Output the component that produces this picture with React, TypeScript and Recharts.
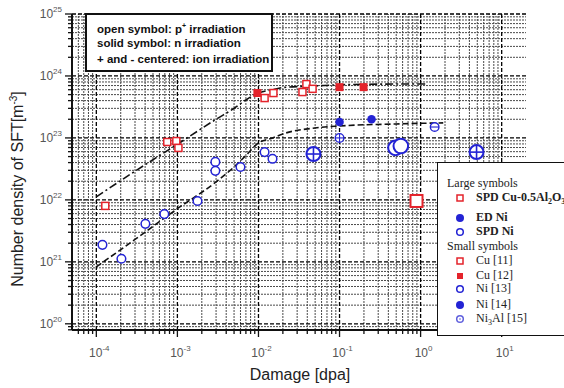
import React from "react";
import { ComposedChart, XAxis, YAxis, Scatter, Line, ReferenceLine } from "recharts";

// ---- data (damage in dpa, density in m^-3) ----
const cu11X = [1.29e-4, 7.5e-4, 9.7e-4, 1.03e-3, 0.0119, 0.0153, 0.0349, 0.039, 0.0465];
const cu11Y = [8.0e21, 8.6e22, 8.9e22, 6.9e22, 4.4e23, 5.3e23, 5.5e23, 7.4e23, 6.2e23];

const cu12X = [9.7e-3, 0.1, 0.198];
const cu12Y = [5.3e23, 6.6e23, 6.6e23];

const spdCuX = [0.89];
const spdCuY = [9.6e21];

const ni13X = [1.19e-4, 2.04e-4, 4.03e-4, 6.9e-4, 1.77e-3, 2.94e-3, 2.94e-3, 6.0e-3, 0.0119, 0.0149];
const ni13Y = [1.88e21, 1.12e21, 4.1e21, 5.9e21, 9.6e21, 4.1e22, 2.94e22, 3.4e22, 5.9e22, 4.6e22];

const ni14X = [0.1, 0.248];
const ni14Y = [1.81e23, 2.0e23];

const ionPlusSmallX = [0.1];
const ionPlusSmallY = [1.0e23];
const ionMinusSmallX = [1.49];
const ionMinusSmallY = [1.5e23];

const ionPlusLargeX = [0.0477, 4.9];
const ionPlusLargeY = [5.5e22, 5.9e22];

const spdNiX = [0.49, 0.57];
const spdNiY = [6.9e22, 7.4e22];

// fitted curves as drawn
const fitCuX = [1e-4, 3e-4, 1e-3, 3e-3, 5e-3, 7e-3, 0.01, 0.015, 0.02, 0.03, 0.05, 0.1, 0.5, 1.2];
const fitCuY = [1.12e22, 2.9e22, 7.9e22, 2.0e23, 3.0e23, 4.1e23, 5.3e23, 6.0e23, 6.5e23, 6.7e23, 6.9e23, 7.2e23, 7.4e23, 7.4e23];

const fitNiX = [1e-4, 3e-4, 1e-3, 3e-3, 5e-3, 7e-3, 0.01, 0.015, 0.02, 0.05, 0.1, 0.5, 1.9];
const fitNiY = [8.3e20, 2.3e21, 7.2e21, 1.95e22, 3.4e22, 5.2e22, 8.3e22, 1.0e23, 1.16e23, 1.45e23, 1.56e23, 1.68e23, 1.75e23];

const X_MIN = Math.pow(10, -4.3);
const X_MAX = Math.pow(10, 1.3);
const Y_MIN = Math.pow(10, 19.9);
const Y_MAX = 1e25;

const zip = (xs: number[], ys: number[]) => xs.map((x, i) => ({ x, y: ys[i] }));

const RED = "#e4232b";
const BLUE = "#2323d4";

const isDecade = (v: number) => Math.abs(Math.log10(v) - Math.round(Math.log10(v))) < 1e-6;

function logTicks(min: number, max: number) {
  const out: number[] = [];
  for (let e = Math.floor(Math.log10(min)); e <= Math.ceil(Math.log10(max)); e++) {
    for (let m = 1; m <= 9; m++) {
      const v = m * Math.pow(10, e);
      if (v >= min * 0.999 && v <= max * 1.001) out.push(v);
    }
  }
  return out;
}

const xTicks = logTicks(X_MIN, X_MAX);
const yTicks = logTicks(Y_MIN, Y_MAX);

const tickFont = { fontFamily: "'Liberation Sans', Arial, sans-serif", fill: "#555" };

const XTick = (props: any) => {
  const { x, y, payload } = props;
  const v = payload.value;
  const major = isDecade(v);
  return (
    <g>
      <line x1={x} x2={x} y1={y} y2={y + (major ? 7 : 4)} stroke="#111" strokeWidth={1.3} />
      {major && (
        <text x={x + 3} y={y + 27} textAnchor="middle" fontSize={12} {...tickFont}>
          10
          <tspan dy={-6} fontSize={8}>{Math.round(Math.log10(v))}</tspan>
        </text>
      )}
    </g>
  );
};

const YTick = (props: any) => {
  const { x, y, payload } = props;
  const v = payload.value;
  const major = isDecade(v);
  return (
    <g>
      <line x1={x} x2={x - (major ? 7 : 4)} y1={y} y2={y} stroke="#111" strokeWidth={1.3} />
      {major && (
        <text x={x - 10} y={y + 4} textAnchor="end" fontSize={12} {...tickFont}>
          10
          <tspan dy={-6} fontSize={8}>{Math.round(Math.log10(v))}</tspan>
        </text>
      )}
    </g>
  );
};

// marker shapes
const openSquare = (s: number, sw: number) => (p: any) =>
  <rect x={p.cx - s / 2} y={p.cy - s / 2} width={s} height={s} fill="#fff" stroke={RED} strokeWidth={sw} />;
const filledSquare = (s: number) => (p: any) =>
  <rect x={p.cx - s / 2} y={p.cy - s / 2} width={s} height={s} fill={RED} />;
const openCircle = (r: number, sw: number) => (p: any) =>
  <circle cx={p.cx} cy={p.cy} r={r} fill="#fff" stroke={BLUE} strokeWidth={sw} />;
const filledCircle = (r: number) => (p: any) =>
  <circle cx={p.cx} cy={p.cy} r={r} fill={BLUE} />;
const centeredCircle = (r: number, sw: number, plus: boolean) => (p: any) => (
  <g>
    <circle cx={p.cx} cy={p.cy} r={r} fill="#fff" stroke={BLUE} strokeWidth={sw} />
    <line x1={p.cx - r} x2={p.cx + r} y1={p.cy} y2={p.cy} stroke={BLUE} strokeWidth={sw * 0.8} />
    {plus && <line x1={p.cx} x2={p.cx} y1={p.cy - r} y2={p.cy + r} stroke={BLUE} strokeWidth={sw * 0.8} />}
  </g>
);

const sub = { fontSize: 8, lineHeight: 0 };

const legendRows: { kind: string; label: React.ReactNode; bold?: boolean; header?: boolean }[] = [
  { kind: "", label: "Large symbols", header: true },
  { kind: "sq", label: <>SPD Cu-0.5Al<sub style={sub}>2</sub>O<sub style={sub}>3</sub></>, bold: true },
  { kind: "fc", label: "ED Ni", bold: true },
  { kind: "oc", label: "SPD Ni", bold: true },
  { kind: "", label: "Small symbols", header: true },
  { kind: "sq", label: "Cu [11]" },
  { kind: "fs", label: "Cu [12]" },
  { kind: "oc", label: "Ni [13]" },
  { kind: "fc", label: "Ni [14]" },
  { kind: "dc", label: <>Ni<sub style={sub}>3</sub>Al [15]</> },
];
const legendTops = [21, 35, 55, 69, 84, 98, 113, 126, 142, 156];

function LegendMark({ kind }: { kind: string }) {
  return (
    <svg width={14} height={12} style={{ position: "absolute", left: 15, top: -6 }}>
      {kind === "sq" && <rect x={4} y={3} width={6} height={6} fill="#fff" stroke={RED} strokeWidth={1.5} />}
      {kind === "fs" && <rect x={4} y={3} width={6} height={6} fill={RED} />}
      {kind === "oc" && <circle cx={7} cy={6} r={3.3} fill="#fff" stroke={BLUE} strokeWidth={1.5} />}
      {kind === "fc" && <circle cx={7} cy={6} r={4} fill={BLUE} />}
      {kind === "dc" && (
        <g>
          <circle cx={7} cy={6} r={3.3} fill="#fff" stroke="#6060dd" strokeWidth={1.5} />
          <circle cx={7} cy={6} r={1} fill="#9999ee" />
        </g>
      )}
    </svg>
  );
}

const keyLines: React.ReactNode[] = [
  <>open symbol: p<sup style={{ fontSize: 7, lineHeight: 0 }}>+</sup> irradiation</>,
  "solid symbol: n irradiation",
  "+ and - centered: ion irradiation",
];
const keyTops = [7, 21, 37];

export default function App() {
  const xMajor = xTicks.filter(isDecade);
  const xMinor = xTicks.filter((v) => !isDecade(v));
  const yMajor = yTicks.filter(isDecade);
  const yMinor = yTicks.filter((v) => !isDecade(v));

  return (
    <div style={{ position: "absolute", left: 0, top: 0, width: 564, height: 388, background: "#fff", overflow: "hidden" }}>
      <ComposedChart width={564} height={388} margin={{ top: 14, right: 38, bottom: 0, left: 0 }}>
        <XAxis
          dataKey="x"
          type="number"
          scale="log"
          domain={[X_MIN, X_MAX]}
          allowDataOverflow
          ticks={xTicks}
          interval={0}
          height={58}
          tickSize={0}
          tickMargin={0}
          tickLine={false}
          tick={<XTick />}
          axisLine={{ stroke: "#111", strokeWidth: 2 }}
        />
        <YAxis
          dataKey="y"
          type="number"
          scale="log"
          domain={[Y_MIN, Y_MAX]}
          allowDataOverflow
          ticks={yTicks}
          interval={0}
          width={72}
          tickSize={0}
          tickMargin={0}
          tickLine={false}
          tick={<YTick />}
          axisLine={{ stroke: "#111", strokeWidth: 2 }}
        />

        {/* dense log grid */}
        {xMinor.map((v) => (
          <ReferenceLine key={"xm" + v} x={v} stroke="#4a4a4a" strokeWidth={1} strokeDasharray="2 1" />
        ))}
        {yMinor.map((v) => (
          <ReferenceLine key={"ym" + v} y={v} stroke="#4a4a4a" strokeWidth={1} strokeDasharray="2 1" />
        ))}
        {xMajor.map((v) => (
          <ReferenceLine key={"xM" + v} x={v} stroke="#000" strokeWidth={1.3} strokeDasharray="4 2" />
        ))}
        {yMajor.map((v) => (
          <ReferenceLine key={"yM" + v} y={v} stroke="#000" strokeWidth={1.3} strokeDasharray="4 2" />
        ))}

        <Line data={zip(fitCuX, fitCuY)} dataKey="y" type="monotone" stroke="#111" strokeWidth={1.6}
          strokeDasharray="8 3 2 3" dot={false} isAnimationActive={false} />
        <Line data={zip(fitNiX, fitNiY)} dataKey="y" type="monotone" stroke="#111" strokeWidth={1.6}
          strokeDasharray="6 3" dot={false} isAnimationActive={false} />

        <Scatter data={zip(cu11X, cu11Y)} shape={openSquare(7, 1.5)} isAnimationActive={false} />
        <Scatter data={zip(cu12X, cu12Y)} shape={filledSquare(8)} isAnimationActive={false} />
        <Scatter data={zip(spdCuX, spdCuY)} shape={openSquare(12, 2)} isAnimationActive={false} />
        <Scatter data={zip(ni13X, ni13Y)} shape={openCircle(4.3, 1.5)} isAnimationActive={false} />
        <Scatter data={zip(ni14X, ni14Y)} shape={filledCircle(4.3)} isAnimationActive={false} />
        <Scatter data={zip(ionPlusSmallX, ionPlusSmallY)} shape={centeredCircle(4.3, 1.4, true)} isAnimationActive={false} />
        <Scatter data={zip(ionMinusSmallX, ionMinusSmallY)} shape={centeredCircle(4.3, 1.4, false)} isAnimationActive={false} />
        <Scatter data={zip(ionPlusLargeX, ionPlusLargeY)} shape={centeredCircle(7, 2, true)} isAnimationActive={false} />
        <Scatter data={zip(spdNiX, spdNiY)} shape={openCircle(7.3, 2)} isAnimationActive={false} />
      </ComposedChart>

      {/* axis titles */}
      <div style={{
        position: "absolute", left: 18, top: 189, transform: "translate(-50%, -50%) rotate(-90deg)",
        whiteSpace: "nowrap", fontFamily: "'Liberation Sans', Arial, sans-serif", fontSize: 16, color: "#222",
      }}>
        Number density of SFT[m<sup style={{ fontSize: 10, lineHeight: 0 }}>-3</sup>]
      </div>
      <div style={{
        position: "absolute", left: 300, top: 375, transform: "translate(-50%, -50%)",
        whiteSpace: "nowrap", fontFamily: "'Liberation Sans', Arial, sans-serif", fontSize: 16, color: "#222",
      }}>
        Damage [dpa]
      </div>

      {/* irradiation key */}
      <div style={{
        position: "absolute", left: 85, top: 13, width: 184, height: 55, background: "#fff",
        border: "2px solid #111", fontFamily: "'Liberation Sans', Arial, sans-serif", fontWeight: 700,
        fontSize: 11.5, color: "#111", lineHeight: "15px",
      }}>
        {keyLines.map((t, i) => (
          <div key={i} style={{ position: "absolute", left: 10, top: keyTops[i], whiteSpace: "nowrap" }}>{t}</div>
        ))}
      </div>

      {/* symbol legend */}
      <div style={{
        position: "absolute", left: 437, top: 162, width: 150, height: 172, background: "#fff",
        border: "1.5px solid #111", fontFamily: "'Liberation Serif', 'Times New Roman', serif", fontSize: 12, color: "#222",
      }}>
        {legendRows.map((r, i) => (
          <div key={i} style={{ position: "absolute", left: 0, top: legendTops[i], width: 150 }}>
            {r.kind && <LegendMark kind={r.kind} />}
            <div style={{
              position: "absolute", left: r.header ? 9 : 38, top: -8, whiteSpace: "nowrap",
              fontWeight: r.bold ? 700 : 400, lineHeight: "15px",
            }}>
              {r.label}
            </div>
          </div>
        ))}
      </div>
    </div>
  );
}
